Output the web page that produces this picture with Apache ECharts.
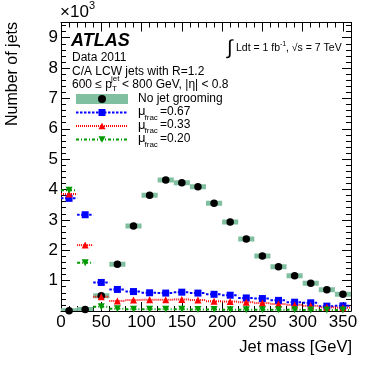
<!DOCTYPE html>
<html>
<head>
<meta charset="utf-8">
<script src="https://cdn.jsdelivr.net/npm/echarts@6/dist/echarts.min.js"></script>
<style>
  html, body { margin: 0; padding: 0; background: #fff; }
  #chart { width: 382px; height: 367px; }
</style>
</head>
<body>
<div id="chart"></div>
<script>
// bin centres (GeV), 20 GeV wide bins
const mass = [10, 30, 50, 70, 90, 110, 130, 150, 170, 190, 210, 230, 250, 270, 290, 310, 330, 350];
const binHalfWidth = 10;

// number of jets per bin
const noGrooming = [10, 50, 500, 1540, 2800, 3810, 4310, 4220, 4090, 3550, 2930, 2370, 1810, 1460, 1160, 910, 700, 550];
const muFrac067 = [3710, 3170, 940, 710, 640, 600, 590, 620, 590, 550, 520, 430, 410, 350, 290, 270, 160, 170];
const muFrac033 = [3850, 2170, 470, 330, 360, 370, 370, 380, 360, 320, 310, 290, 260, 230, 200, 170, 120, 110];
const muFrac020 = [3980, 1590, 140, 70, 60, 60, 60, 60, 50, 50, 40, 40, 40, 40, 40, 30, 30, 30];

const xMax = 360, xMajor = 50, xMinor = 10;
const yMax = 9500, yMajor = 1000, yMinor = 200;

const font = '"Liberation Sans", Arial, Helvetica, sans-serif';
const systColor = '#80c0a0';
const blue = '#0000ff', red = '#ff0000', green = '#009900';

const toPairs = ys => mass.map((m, i) => [m, ys[i]]);

function axis(kind, position, interval, tickLen, showLine, labels) {
    const max = kind === 'x' ? xMax : yMax;
    return {
        type: 'value', position: position, min: 0, max: max, interval: interval,
        axisLine: { show: showLine, onZero: false, lineStyle: { color: '#000', width: 1 } },
        axisTick: { show: true, inside: true, length: tickLen, lineStyle: { color: '#000', width: 1 } },
        axisLabel: labels || { show: false },
        splitLine: { show: false }
    };
}

function hbarSeries(name, data, color, dash) {
    return {
        name: name, type: 'custom', data: data, z: 3, clip: true,
        renderItem: function (params, api) {
            const x = api.value(0), y = api.value(1);
            const a = api.coord([x - binHalfWidth, y]);
            const b = api.coord([x + binHalfWidth, y]);
            return {
                type: 'line',
                shape: { x1: a[0], y1: a[1], x2: b[0], y2: b[1] },
                style: { stroke: color, lineWidth: 2, lineDash: dash, fill: null }
            };
        }
    };
}

function markerSeries(name, data, color, symbol, size, rotate) {
    return {
        name: name, type: 'scatter', data: data, z: 4,
        symbol: symbol, symbolSize: size, symbolRotate: rotate || 0,
        itemStyle: { color: color, opacity: 1 },
        emphasis: { disabled: true }
    };
}

const chart = echarts.init(document.getElementById('chart'), null, { renderer: 'canvas' });

const legendRows = [99, 112.5, 126, 139.5];
const legendX0 = 76, legendX1 = 128, legendMid = 102, legendText = 138;

function tri(cx, cy, s, down) {
    const h = s * 0.9;
    return down
        ? [[cx - s / 2, cy - h / 2], [cx + s / 2, cy - h / 2], [cx, cy + h / 2]]
        : [[cx - s / 2, cy + h / 2], [cx + s / 2, cy + h / 2], [cx, cy - h / 2]];
}

function txt(s, x, y, size, extra) {
    return Object.assign({ type: 'text', x: x, y: y,
        style: { text: s, font: size + 'px ' + font, fill: '#000', verticalAlign: 'middle' } }, extra || {});
}

function muText(val, y) {
    return [
        txt('μ', legendText, y - 1, 13),
        txt('frac', legendText + 6.5, y + 5, 8),
        txt('=' + val, legendText + 22, y - 1, 12)
    ];
}

const graphics = [
    // x10^3
    txt('×10', 60, 12, 17),
    txt('3', 89, 6, 11),
    // y title
    { type: 'text', x: 13, y: 22, rotation: Math.PI / 2,
      style: { text: 'Number of jets', font: '16px ' + font, fill: '#000', align: 'right', verticalAlign: 'middle' } },
    // x title
    { type: 'text', x: 352, y: 347,
      style: { text: 'Jet mass [GeV]', font: '16.5px ' + font, fill: '#000', align: 'right', verticalAlign: 'middle' } },
    // ATLAS label
    { type: 'text', x: 71, y: 41,
      style: { text: 'ATLAS', font: 'italic bold 18px ' + font, fill: '#000', verticalAlign: 'middle' } },
    txt('Data 2011', 72, 58, 12),
    txt('C/A LCW jets with R=1.2', 72, 71.5, 12),
    txt('600 ≤ p', 72, 85, 12),
    txt('jet', 111, 79, 8),
    txt('T', 112, 89, 8),
    txt('< 800 GeV, |η| < 0.8', 122, 85, 12),
    // luminosity
    txt('∫', 227, 48, 20),
    txt('Ldt = 1 fb', 236, 48, 10.5),
    txt('-1', 280, 44, 7),
    txt(', √s = 7 TeV', 286, 48, 10.5),
    // legend: no grooming
    { type: 'rect', shape: { x: legendX0, y: legendRows[0] - 5, width: legendX1 - legendX0, height: 10 },
      style: { fill: systColor } },
    { type: 'circle', shape: { cx: legendMid, cy: legendRows[0], r: 4 }, style: { fill: '#000' } },
    txt('No jet grooming', legendText, legendRows[0], 12),
    // legend: 0.67
    { type: 'line', shape: { x1: legendX0, y1: legendRows[1], x2: legendX1, y2: legendRows[1] },
      style: { stroke: blue, lineWidth: 2, lineDash: [2.5, 1.5] } },
    { type: 'rect', shape: { x: legendMid - 3.5, y: legendRows[1] - 3.5, width: 7, height: 7 }, style: { fill: blue } },
    // legend: 0.33
    { type: 'line', shape: { x1: legendX0, y1: legendRows[2], x2: legendX1, y2: legendRows[2] },
      style: { stroke: red, lineWidth: 2, lineDash: [1, 1] } },
    { type: 'polygon', shape: { points: tri(legendMid, legendRows[2], 7, false) }, style: { fill: red } },
    // legend: 0.20
    { type: 'line', shape: { x1: legendX0, y1: legendRows[3], x2: legendX1, y2: legendRows[3] },
      style: { stroke: green, lineWidth: 2, lineDash: [3, 2, 1, 2] } },
    { type: 'polygon', shape: { points: tri(legendMid, legendRows[3], 7, true) }, style: { fill: green } }
].concat(muText('0.67', legendRows[1]), muText('0.33', legendRows[2]), muText('0.20', legendRows[3]));

const option = {
    animation: false,
    backgroundColor: '#fff',
    grid: { left: 61, right: 31, top: 22.5, bottom: 56, containLabel: false },
    xAxis: [
        axis('x', 'bottom', xMajor, 9, true, {
            show: true, margin: 3, fontSize: 17, color: '#000', fontFamily: font, showMaxLabel: false,
            formatter: v => (v > 350 ? '' : String(v))
        }),
        axis('x', 'bottom', xMinor, 5, false),
        axis('x', 'top', xMajor, 9, true),
        axis('x', 'top', xMinor, 5, false)
    ],
    yAxis: [
        axis('y', 'left', yMajor, 9, true, {
            show: true, margin: 3, fontSize: 17, color: '#000', fontFamily: font, showMaxLabel: false,
            formatter: v => (v === 0 || v > 9000 ? '' : String(v / 1000))
        }),
        axis('y', 'left', yMinor, 5, false),
        axis('y', 'right', yMajor, 9, true),
        axis('y', 'right', yMinor, 5, false)
    ],
    series: [
        {
            name: 'No jet grooming (syst)', type: 'custom', data: toPairs(noGrooming), z: 2, clip: true,
            renderItem: function (params, api) {
                const x = api.value(0), y = api.value(1);
                const a = api.coord([x - binHalfWidth, y]);
                const b = api.coord([x + binHalfWidth, y]);
                return { type: 'rect', shape: { x: a[0], y: a[1] - 2.5, width: b[0] - a[0], height: 5 },
                         style: { fill: systColor } };
            }
        },
        markerSeries('No jet grooming', toPairs(noGrooming), '#000', 'circle', 7.5),
        hbarSeries('mu067 line', toPairs(muFrac067), blue, [2.5, 1.5]),
        markerSeries('μfrac=0.67', toPairs(muFrac067), blue, 'rect', 7),
        hbarSeries('mu033 line', toPairs(muFrac033), red, [1, 1]),
        markerSeries('μfrac=0.33', toPairs(muFrac033), red, 'triangle', 7),
        hbarSeries('mu020 line', toPairs(muFrac020), green, [3, 2, 1, 2]),
        markerSeries('μfrac=0.20', toPairs(muFrac020), green, 'triangle', 7, 180)
    ],
    graphic: graphics
};

chart.setOption(option);
</script>
</body>
</html>
